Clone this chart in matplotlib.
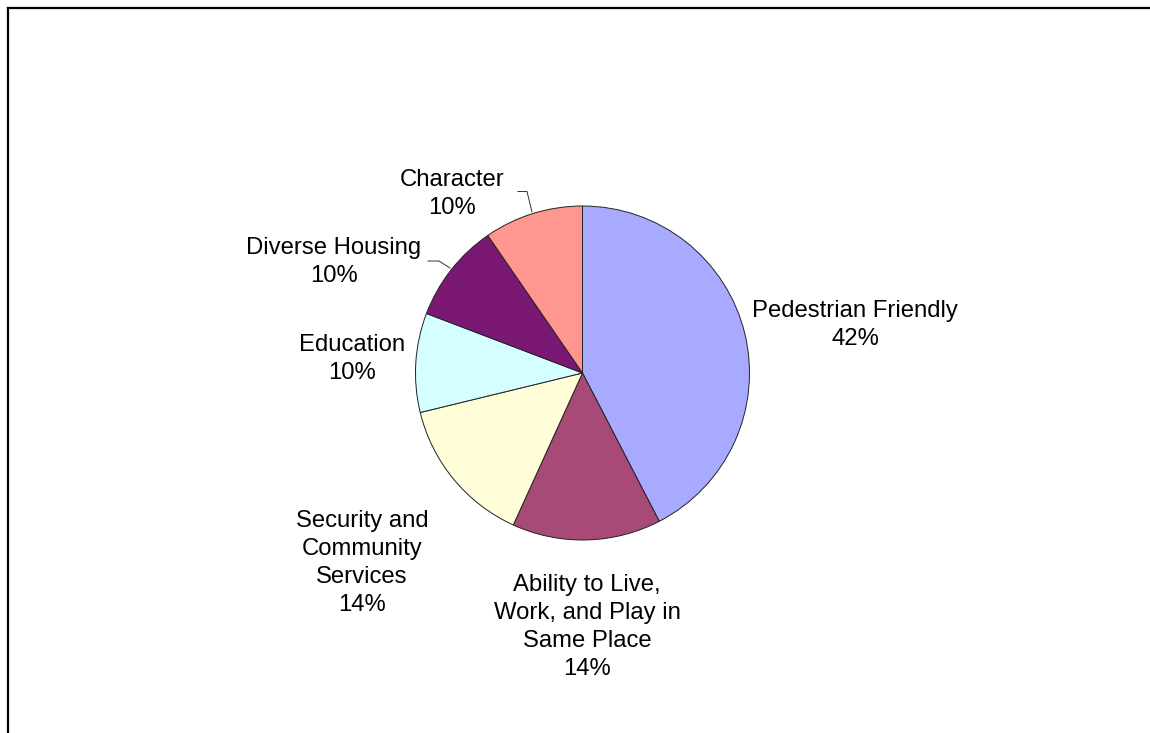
import matplotlib
matplotlib.use("Agg")
import matplotlib.pyplot as plt
from matplotlib.lines import Line2D

# dados (contagens estimadas; rotulos em % arredondado)
labels = ["Pedestrian Friendly",
          "Ability to Live,\nWork, and Play in\nSame Place",
          "Security and\nCommunity\nServices",
          "Education",
          "Diverse Housing",
          "Character"]
values = [53, 18, 18, 12, 12, 12]
colors = ["#A8AAFF", "#A84A78", "#FFFED8", "#D4FEFF", "#7A1874", "#FF9690"]

W, H = 1150, 733
plt.rcParams['font.family'] = ['Liberation Sans', 'DejaVu Sans']

fig = plt.figure(figsize=(W / 100, H / 100), dpi=100)
ax = fig.add_axes([0, 0, 1, 1])

cx, cy, r = 582.5, H - 373, 167
ax.pie(values, colors=colors, startangle=90, counterclock=False,
       center=(cx, cy), radius=r,
       wedgeprops=dict(edgecolor="#222222", linewidth=0.7))

ax.set_xlim(0, W)
ax.set_ylim(0, H)
ax.axis("off")

# posicoes dos rotulos (pixels, centro do bloco)
label_pos = [(855, 325), (587, 627), (362, 563), (352, 359), (334, 262), (452, 194)]
total = sum(values)
for lab, v, (x, y) in zip(labels, values, label_pos):
    ax.text(x, H - y, f"{lab}\n{round(100 * v / total)}%", ha="center", va="center",
            multialignment="center", fontsize=17.2, linespacing=1.34)

# linhas de chamada
leaders = [[(518, 191.5), (527, 191.5), (532, 212)],
           [(428, 261), (439, 261), (450, 268)]]
for pts in leaders:
    xs = [p[0] for p in pts]
    ys = [H - p[1] for p in pts]
    ax.plot(xs, ys, color="#333333", linewidth=0.7)

# moldura
fig.add_artist(Line2D([7.5 / W, 7.5 / W], [0, 1 - 7.5 / H], color="black", linewidth=1.6,
                      transform=fig.transFigure))
fig.add_artist(Line2D([7.5 / W, 1], [1 - 7.5 / H, 1 - 7.5 / H], color="black", linewidth=1.6,
                      transform=fig.transFigure))

fig.savefig("out.png", dpi=100)
